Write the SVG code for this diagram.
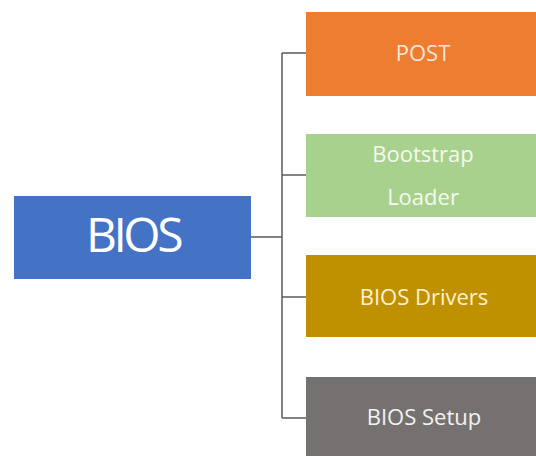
<svg xmlns="http://www.w3.org/2000/svg" width="536" height="456" viewBox="0 0 536 456">
  <style>
    .label { font-family: "Open Sans", "Liberation Sans", sans-serif; text-anchor: middle; }
    .small { font-size: 22px; }
    .wire { stroke: #5a5a5a; stroke-width: 1.5; fill: none; }
  </style>
  <rect width="536" height="456" fill="#ffffff"/>

  <!-- connectors -->
  <g id="connectors">
    <path class="wire" d="M251 237 H282"/>
    <path class="wire" d="M282 53 V418"/>
    <path class="wire" d="M282 53 H306"/>
    <path class="wire" d="M282 175 H306"/>
    <path class="wire" d="M282 297 H306"/>
    <path class="wire" d="M282 418 H306"/>
  </g>

  <g id="bios">
    <rect x="14" y="196" width="237" height="83" fill="#4472C4"/>
    <text class="label" x="133" y="252" font-size="48" fill="#ffffff" letter-spacing="-3.5">BIOS</text>
  </g>

  <g id="post">
    <rect x="306" y="12" width="230" height="84" fill="#ED7D31"/>
    <text class="label small" x="423" y="61" fill="#FBE5D6">POST</text>
  </g>

  <g id="bootstrap-loader">
    <rect x="306" y="134" width="230" height="83" fill="#A9D18E"/>
    <text class="label small" x="423" y="162" fill="#F4FAF0">Bootstrap</text>
    <text class="label small" x="423" y="205" fill="#F4FAF0">Loader</text>
  </g>

  <g id="bios-drivers">
    <rect x="306" y="255" width="230" height="82" fill="#BF9000"/>
    <text class="label small" x="424" y="305" fill="#FFF2CC">BIOS Drivers</text>
  </g>

  <g id="bios-setup">
    <rect x="306" y="377" width="230" height="79" fill="#767171"/>
    <text class="label small" x="424" y="425" fill="#F2F2F2">BIOS Setup</text>
  </g>
</svg>
